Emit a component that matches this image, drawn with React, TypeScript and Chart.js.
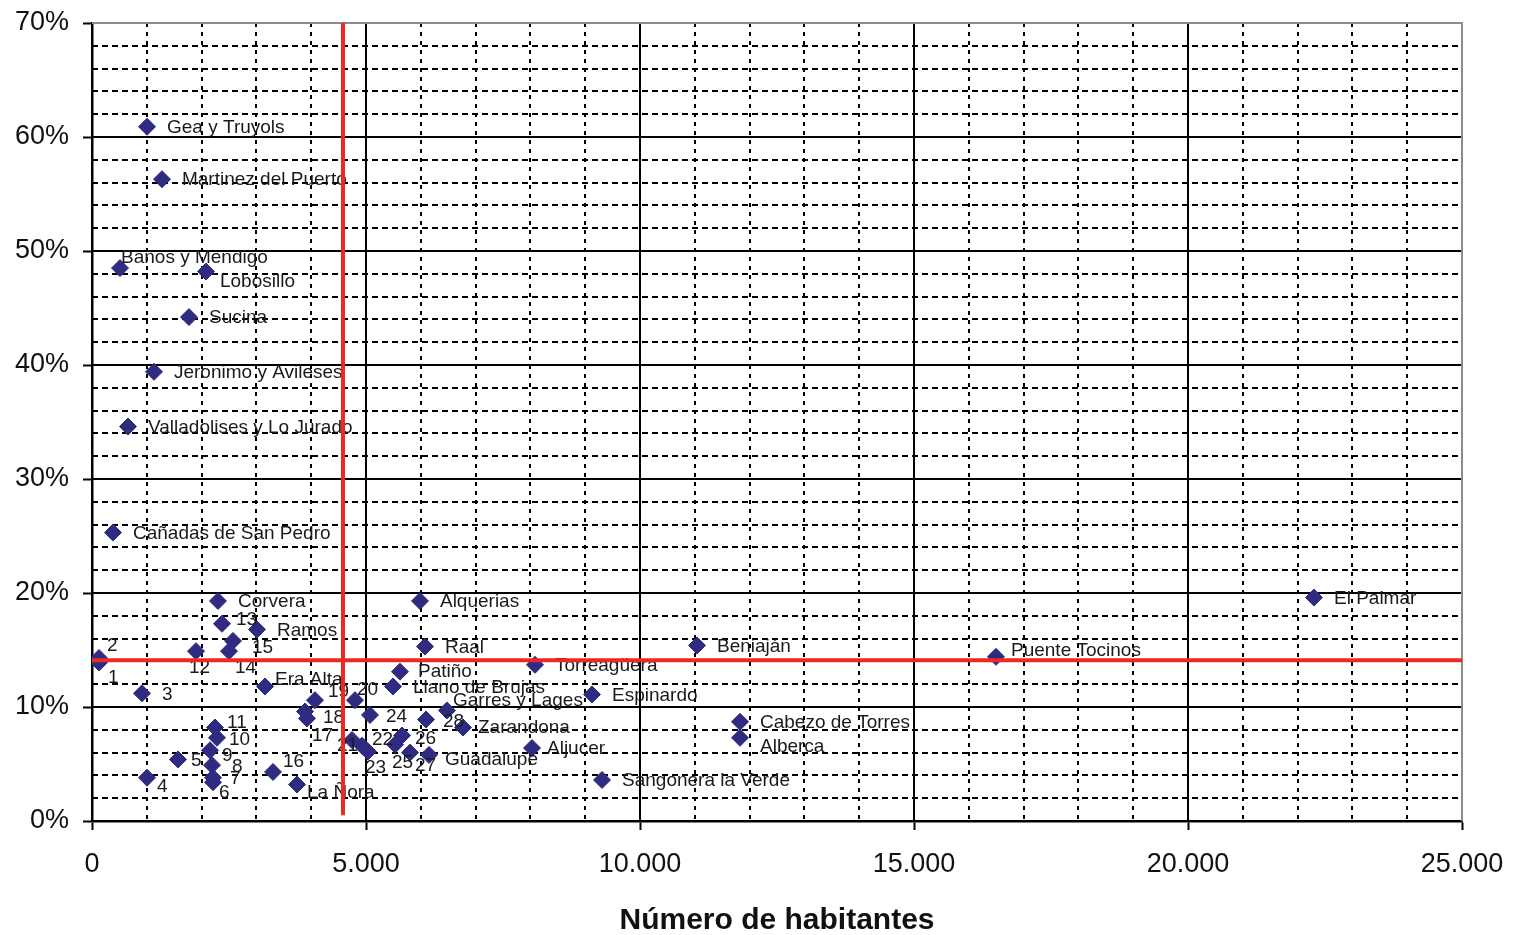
import React, { useEffect, useRef } from "react";
import { Chart, registerables } from "chart.js";

Chart.register(...registerables);

// ---- data ----
const places = [
  "Gea y Truyols", "Martinez del Puerto", "Baños y Mendigo", "Lobosillo", "Sucina",
  "Jeronimo y Avileses", "Valladolises y Lo Jurado", "Cañadas de San Pedro", "Corvera", "13",
  "Ramos", "15", "14", "12", "2", "1", "3", "Era Alta", "19", "20", "18", "17", "11", "10",
  "9", "5", "8", "7", "6", "4", "16", "La Ñora", "Patiño", "Llano de Brujas", "Garres y Lages",
  "24", "28", "Zarandona", "21", "22", "23", "26", "25", "27", "Guadalupe", "Alquerias", "Raal",
  "Torreagüera", "Espinardo", "Aljucer", "Sangonera la Verde", "Beniaján", "Cabezo de Torres",
  "Alberca", "Puente Tocinos", "El Palmar",
];
const population = [
  1004, 1277, 511, 2080, 1770,
  1131, 657, 383, 2299, 2372,
  3011, 2573, 2500, 1898, 128, 128, 912, 3157, 4069, 4799, 3887, 3923, 2245, 2281,
  2153, 1569, 2190, 2208, 2208, 1004, 3303, 3741, 5620, 5493, 6478,
  5073, 6095, 6770, 4745, 4927, 5036, 5657, 5529, 5803, 6150, 5985, 6077,
  8084, 9124, 8029, 9307, 11040, 11825,
  11825, 16496, 22299,
];
const share = [
  60.9, 56.3, 48.5, 48.2, 44.2,
  39.4, 34.6, 25.3, 19.3, 17.3,
  16.8, 15.8, 14.9, 14.9, 14.3, 13.9, 11.2, 11.8, 10.6, 10.6, 9.6, 9.0, 8.2, 7.3,
  6.2, 5.4, 4.9, 3.8, 3.4, 3.8, 4.3, 3.2, 13.1, 11.8, 9.7,
  9.3, 8.9, 8.2, 7.1, 6.6, 6.1, 7.5, 6.7, 6.0, 5.8, 19.3, 15.3,
  13.7, 11.1, 6.4, 3.6, 15.4, 8.7,
  7.3, 14.4, 19.6,
];
const thresholdPopulation = 4580;
const thresholdShare = 14.1;
const xMax = 25000;
const yMax = 70;
const xMajorStep = 5000;
const xMinorStep = 1000;
const yMajorStep = 10;
const yMinorStep = 2;
const xTitle = "Número de habitantes";

// ---- label placement (style only) ----
const labelOffsets: Record<string, [number, number]> = {
  "Baños y Mendigo": [1, -10],
  "Lobosillo": [14, 10],
  "13": [14, -4],
  "15": [19, 7],
  "14": [6, 17],
  "12": [-7, 17],
  "2": [8, -12],
  "1": [9, 15],
  "Era Alta": [10, -7],
  "19": [13, -8],
  "20": [2, -10],
  "18": [18, 6],
  "17": [5, 17],
  "11": [12, -5],
  "10": [12, 2],
  "9": [12, 5],
  "5": [13, 1],
  "8": [20, 2],
  "7": [17, 1],
  "6": [6, 11],
  "4": [10, 9],
  "16": [10, -10],
  "La Ñora": [10, 8],
  "Patiño": [18, 0],
  "Garres y Lages": [6, -10],
  "24": [16, 2],
  "28": [17, 2],
  "Zarandona": [15, 0],
  "21": [-15, 6],
  "22": [10, -6],
  "23": [-3, 16],
  "26": [13, 3],
  "25": [-3, 18],
  "27": [5, 13],
  "Guadalupe": [16, 5],
  "Aljucer": [15, 1],
  "Alberca": [20, 9],
  "Puente Tocinos": [15, -6],
};

const FONT = "'Liberation Sans', Arial, Helvetica, sans-serif";

const fmtThousands = (v: number) =>
  String(Math.round(v)).replace(/\B(?=(\d{3})+(?!\d))/g, ".");

const gridPlugin = {
  id: "customGrid",
  beforeDatasetsDraw(chart: any) {
    const { ctx, chartArea: a, scales } = chart;
    const x = scales.x;
    const y = scales.y;
    ctx.save();
    ctx.strokeStyle = "#000";
    ctx.lineWidth = 2;
    // minor horizontal
    ctx.setLineDash([6, 4]);
    for (let v = yMinorStep; v < yMax; v += yMinorStep) {
      if (v % yMajorStep === 0) continue;
      const py = Math.round(y.getPixelForValue(v));
      ctx.beginPath();
      ctx.moveTo(a.left, py);
      ctx.lineTo(a.right, py);
      ctx.stroke();
    }
    // minor vertical
    ctx.setLineDash([4, 5]);
    for (let v = xMinorStep; v < xMax; v += xMinorStep) {
      if (v % xMajorStep === 0) continue;
      const px = Math.round(x.getPixelForValue(v));
      ctx.beginPath();
      ctx.moveTo(px, a.top);
      ctx.lineTo(px, a.bottom);
      ctx.stroke();
    }
    // major
    ctx.setLineDash([]);
    for (let v = yMajorStep; v < yMax; v += yMajorStep) {
      const py = Math.round(y.getPixelForValue(v));
      ctx.beginPath();
      ctx.moveTo(a.left, py);
      ctx.lineTo(a.right, py);
      ctx.stroke();
    }
    for (let v = xMajorStep; v < xMax; v += xMajorStep) {
      const px = Math.round(x.getPixelForValue(v));
      ctx.beginPath();
      ctx.moveTo(px, a.top);
      ctx.lineTo(px, a.bottom);
      ctx.stroke();
    }
    // top and right frame
    ctx.strokeStyle = "#8c8c8c";
    ctx.beginPath();
    ctx.moveTo(a.left, a.top);
    ctx.lineTo(a.right, a.top);
    ctx.lineTo(a.right, a.bottom);
    ctx.stroke();
    ctx.restore();
  },
};

const labelPlugin = {
  id: "pointLabels",
  afterDatasetsDraw(chart: any) {
    const { ctx } = chart;
    const meta = chart.getDatasetMeta(0);
    ctx.save();
    ctx.font = `19px ${FONT}`;
    ctx.fillStyle = "#1a1a1a";
    ctx.textAlign = "left";
    ctx.textBaseline = "middle";
    meta.data.forEach((pt: any, i: number) => {
      const name = places[i];
      const [dx, dy] = labelOffsets[name] || [20, 1];
      ctx.fillText(name, pt.x + dx, pt.y + dy);
    });
    ctx.restore();
  },
};

const thresholdPlugin = {
  id: "thresholds",
  afterDraw(chart: any) {
    const { ctx, scales } = chart;
    const x = scales.x;
    const y = scales.y;
    ctx.save();
    ctx.strokeStyle = "#ec2a22";
    ctx.lineWidth = 4;
    const px = x.getPixelForValue(thresholdPopulation);
    ctx.beginPath();
    ctx.moveTo(px, y.getPixelForValue(yMax));
    ctx.lineTo(px, y.getPixelForValue(0.5));
    ctx.stroke();
    const py = y.getPixelForValue(thresholdShare);
    ctx.beginPath();
    ctx.moveTo(x.getPixelForValue(0), py);
    ctx.lineTo(x.getPixelForValue(xMax), py);
    ctx.stroke();
    ctx.restore();
  },
};

export default function App() {
  const ref = useRef<HTMLCanvasElement | null>(null);
  useEffect(() => {
    if (!ref.current) return;
    Chart.defaults.font.family = FONT;
    const chart = new Chart(ref.current, {
      type: "scatter",
      data: {
        datasets: [
          {
            data: population.map((p, i) => ({ x: p, y: share[i] })),
            pointStyle: "rectRot",
            pointRadius: 8.5,
            pointHoverRadius: 8.5,
            backgroundColor: "#2e2b80",
            borderColor: "#2e2b80",
            borderWidth: 1,
          },
        ],
      },
      options: {
        responsive: false,
        animation: false,
        events: [],
        layout: { padding: { top: 23, right: 52, left: 0, bottom: 0 } },
        plugins: { legend: { display: false }, tooltip: { enabled: false } },
        scales: {
          x: {
            type: "linear",
            min: 0,
            max: xMax,
            afterFit: (s: any) => {
              s.height = 114;
              s.paddingLeft = 0;
              s.paddingRight = 0;
            },
            ticks: {
              stepSize: xMajorStep,
              color: "#111",
              font: { size: 27 },
              padding: 18,
              maxRotation: 0,
              callback: (v: any) => fmtThousands(Number(v)),
            },
            grid: {
              drawOnChartArea: false,
              drawTicks: true,
              tickLength: 9,
              tickColor: "#000",
              tickWidth: 2,
            },
            border: { display: true, color: "#000", width: 2.5 },
            title: {
              display: true,
              text: xTitle,
              color: "#111",
              font: { size: 30, weight: "bold" },
              padding: { top: 0, bottom: -4 },
            },
          },
          y: {
            type: "linear",
            min: 0,
            max: yMax,
            afterFit: (s: any) => {
              s.width = 92;
              s.paddingTop = 0;
              s.paddingBottom = 0;
            },
            ticks: {
              stepSize: yMajorStep,
              color: "#111",
              font: { size: 27 },
              padding: 14,
              callback: (v: any) => `${v}%`,
            },
            grid: {
              drawOnChartArea: false,
              drawTicks: true,
              tickLength: 9,
              tickColor: "#000",
              tickWidth: 2,
            },
            border: { display: true, color: "#000", width: 2.5 },
          },
        },
      },
      plugins: [gridPlugin, labelPlugin, thresholdPlugin],
    });
    return () => chart.destroy();
  }, []);
  return (
    <div
      style={{
        position: "absolute",
        left: 0,
        top: 0,
        width: 1514,
        height: 935,
        background: "#fff",
      }}
    >
      <canvas ref={ref} width={1514} height={935} />
    </div>
  );
}
